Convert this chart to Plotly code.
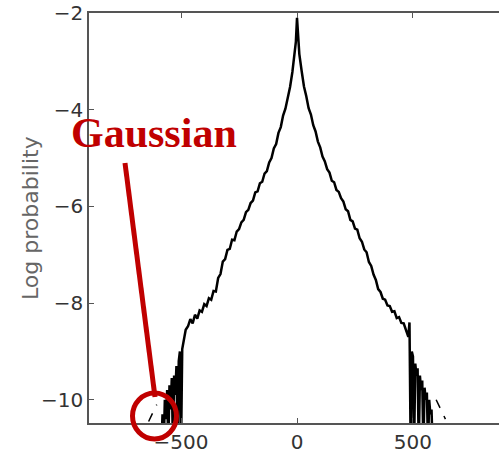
import plotly.graph_objects as go

# Empirical log-probability histogram (bin centre -> log probability)
bin_centers = [
    -585, -580, -575, -570, -565, -560, -555, -550, -545, -540, -535, -530,
    -525, -520, -515, -510, -505, -500, -495, -490, -485, -480,
    -470, -460, -450, -440, -430, -420, -410, -400, -390, -380, -370, -360,
    -350, -340, -330, -320, -310, -300, -290, -280, -270, -260, -250, -240,
    -230, -220, -210, -200, -190, -180, -170, -160, -150, -140, -130, -120,
    -110, -100, -90, -80, -70, -60, -50, -40, -30, -20, -10, -5,
    0,
    5, 10, 20, 30, 40, 50, 60, 70, 80, 90, 100, 110, 120, 130, 140, 150,
    160, 170, 180, 190, 200, 210, 220, 230, 240, 250, 260, 270, 280, 290,
    300, 310, 320, 330, 340, 350, 360, 370, 380, 390, 400, 410, 420, 430,
    440, 450, 460, 470,
    480, 485, 490, 495, 500, 505, 510, 515, 520, 525, 530, 535, 540, 545,
    550, 555, 560, 565, 570, 575, 580, 585,
]
log_prob = [
    -11.0, -10.3, -11.0, -10.0, -10.4, -9.8, -11.0, -9.7, -10.2, -9.55, -11.0, -9.5,
    -9.9, -9.3, -11.0, -9.2, -9.0, -11.0, -8.95, -8.8, -8.7, -8.55,
    -8.48, -8.33, -8.42, -8.24, -8.32, -8.15, -8.18, -8.02, -8.06, -7.9, -7.93, -7.75,
    -7.76, -7.48, -7.4, -7.14, -7.09, -6.9, -6.88, -6.69, -6.7, -6.52, -6.47, -6.33,
    -6.28, -6.12, -6.07, -5.93, -5.88, -5.71, -5.69, -5.52, -5.49, -5.32, -5.27, -5.09,
    -5.0, -4.8, -4.71, -4.48, -4.36, -4.12, -3.98, -3.75, -3.53, -3.22, -2.85, -2.6,
    -2.1,
    -2.6, -2.85, -3.2, -3.52, -3.72, -3.97, -4.1, -4.32, -4.45, -4.66, -4.78, -4.97,
    -5.07, -5.23, -5.3, -5.47,
    -5.5, -5.66, -5.7, -5.83, -5.9, -6.06, -6.1, -6.28, -6.31, -6.46, -6.48, -6.66,
    -6.73, -6.89,
    -6.95, -7.15, -7.23, -7.41, -7.52, -7.71, -7.77, -7.91, -7.93, -8.05, -8.06, -8.18,
    -8.17, -8.31,
    -8.29, -8.41, -8.42, -8.58,
    -8.7, -8.4, -11.0, -9.0, -9.1, -11.0, -9.25, -9.5, -9.35, -11.0, -9.5, -9.8,
    -9.6, -11.0,
    -9.75, -10.0, -9.85, -11.0, -10.0, -10.3, -10.2, -11.0,
]

# Gaussian reference curve (only its tails are visible at the bottom)
gauss_x = [-640, -605, None, 600, 640]
gauss_y = [-10.45, -10.1, None, -10.0, -10.4]

x_ticks = [-500, 0, 500]
y_ticks = [-10, -8, -6, -4, -2]

W, H = 499, 458
L, R, T, B = 89, 0, 13, 35
pw, ph = W - L - R, H - T - B


def px(xp):
    return (xp - L) / pw


def py(yp):
    return (H - B - yp) / ph


fig = go.Figure()
fig.add_trace(go.Scatter(
    x=bin_centers, y=log_prob, mode="lines",
    line=dict(color="black", width=2.5), showlegend=False, hoverinfo="skip",
))
fig.add_trace(go.Scatter(
    x=gauss_x, y=gauss_y, mode="lines",
    line=dict(color="black", width=1.5, dash="dash"), showlegend=False,
    hoverinfo="skip",
))

axis_font = dict(family="DejaVu Sans", size=20, color="#333333")
fig.update_xaxes(
    range=[-897, 871], tickvals=x_ticks, ticks="inside", ticklen=5,
    tickcolor="#555555", showline=True, linecolor="#555555", linewidth=1.5,
    mirror="ticks", showgrid=False, zeroline=False, tickfont=axis_font,
)
fig.update_yaxes(
    range=[-10.48, -2], tickvals=y_ticks, ticks="inside", ticklen=5,
    tickcolor="#555555", showline=True, linecolor="#555555", linewidth=1.5,
    mirror=False, showgrid=False, zeroline=False, tickfont=axis_font,
)

# y-axis title placed as rotated text
fig.add_annotation(
    text="Log probability", xref="paper", yref="paper",
    x=px(30), y=py(218), xanchor="center", yanchor="middle", textangle=-90,
    showarrow=False, font=dict(family="DejaVu Sans", size=22, color="#666666"),
)

red = "#C00000"
fig.add_shape(type="line", xref="paper", yref="paper",
              x0=px(125), y0=py(163), x1=px(155), y1=py(397),
              line=dict(color=red, width=5))
fig.add_shape(type="circle", xref="paper", yref="paper",
              x0=px(132.5), x1=px(176.5), y0=py(439), y1=py(393),
              line=dict(color=red, width=5))
fig.add_annotation(
    text="<b>Gaussian</b>", xref="paper", yref="paper",
    x=px(69), y=py(133), xanchor="left", yanchor="middle", showarrow=False,
    font=dict(family="Liberation Serif", size=42, color=red),
)

fig.update_layout(
    width=W, height=H, margin=dict(l=L, r=R, t=T, b=B, autoexpand=False),
    plot_bgcolor="white", paper_bgcolor="white",
)
fig.write_html("out.html")
